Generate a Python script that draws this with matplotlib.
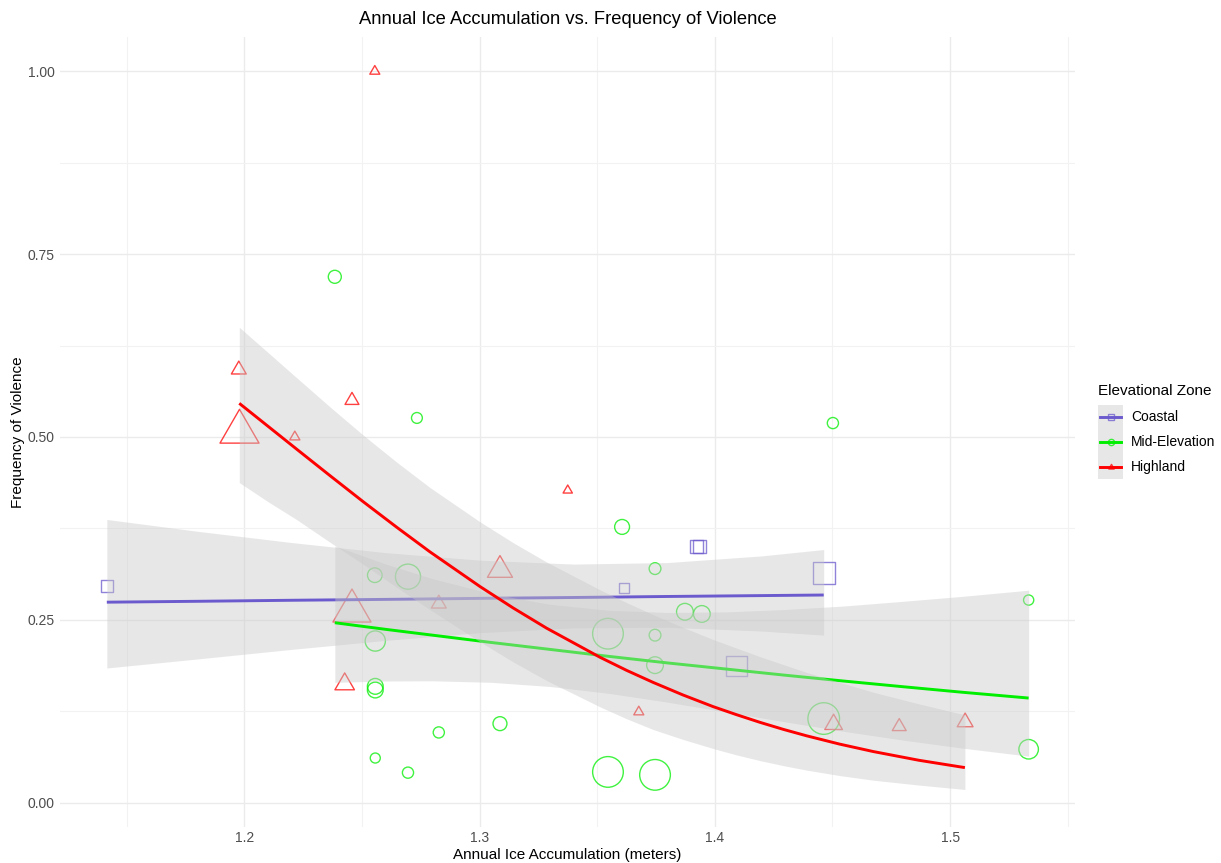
import matplotlib
matplotlib.use("Agg")
import matplotlib.pyplot as plt
import numpy as np
from matplotlib.lines import Line2D
from matplotlib.patches import Rectangle
from matplotlib.path import Path

plt.rcParams['font.family'] = ['Liberation Sans', 'DejaVu Sans']

# --- observations per elevational zone -------------------------------------
coastal_ice = [1.1416, 1.3614, 1.3922, 1.3936, 1.4463, 1.4093]
coastal_violence = [0.296, 0.294, 0.350, 0.350, 0.314, 0.187]
coastal_sample = [42, 29, 53, 53, 144, 121]

mid_ice = [1.2385, 1.2734, 1.4502, 1.3606, 1.3746, 1.2555, 1.2696, 1.3873,
           1.3945, 1.3546, 1.3746, 1.2557, 1.3746, 1.2557, 1.2557, 1.4463,
           1.3087, 1.2827, 1.2557, 1.2696, 1.3546, 1.3746, 1.5334, 1.5334]
mid_violence = [0.719, 0.526, 0.519, 0.377, 0.320, 0.311, 0.309, 0.261,
                0.258, 0.231, 0.229, 0.221, 0.188, 0.159, 0.154, 0.115,
                0.108, 0.096, 0.061, 0.041, 0.042, 0.038, 0.277, 0.073]
mid_sample = [49, 34, 36, 64, 40, 62, 182, 81,
              81, 272, 40, 118, 81, 72, 72, 289,
              56, 36, 29, 36, 272, 272, 30, 110]

high_ice = [1.2555, 1.1977, 1.2458, 1.1980, 1.2215, 1.3375, 1.3087,
            1.2458, 1.2827, 1.2427, 1.3677, 1.4505, 1.4784, 1.5064]
high_violence = [1.000, 0.592, 0.550, 0.507, 0.500, 0.427, 0.318,
                 0.262, 0.272, 0.162, 0.124, 0.107, 0.104, 0.110]
high_sample = [29, 64, 56, 441, 30, 25, 182,
               420, 64, 110, 29, 90, 56, 72]

# --- fitted binomial smooths with 95% bands ---------------------------------
coastal_fit_x = [1.1416, 1.18, 1.22, 1.26, 1.30, 1.34, 1.38, 1.42, 1.4463]
coastal_fit = [0.2741, 0.2753, 0.2767, 0.2779, 0.2793, 0.2805, 0.2819, 0.2831, 0.2839]
coastal_hi = [0.3872, 0.3711, 0.3557, 0.3419, 0.3316, 0.3262, 0.3283, 0.3374, 0.3461]
coastal_lo = [0.1841, 0.1964, 0.2095, 0.2218, 0.2324, 0.2390, 0.2398, 0.2346, 0.2290]

mid_fit_x = [1.2385, 1.26, 1.28, 1.305, 1.33, 1.355, 1.38, 1.405, 1.43,
             1.455, 1.48, 1.505, 1.5334]
mid_fit = [0.246, 0.237, 0.229, 0.219, 0.2095, 0.200, 0.191, 0.1826, 0.1742,
           0.1662, 0.1585, 0.151, 0.143]
mid_hi = [0.351, 0.3263, 0.3062, 0.2856, 0.2711, 0.2629, 0.260, 0.2608, 0.2641,
          0.2689, 0.2753, 0.282, 0.2905]
mid_lo = [0.1645, 0.1663, 0.1666, 0.1645, 0.1588, 0.1494, 0.1373, 0.1239, 0.1104,
          0.0974, 0.0855, 0.0746, 0.0636]

high_fit_x = [1.1979, 1.2100, 1.2223, 1.2365, 1.2506, 1.2648, 1.2789, 1.3002,
              1.3143, 1.3285, 1.3512, 1.3625, 1.3738, 1.3865, 1.3993, 1.4092,
              1.4192, 1.4291, 1.4390, 1.4531, 1.4673, 1.4868, 1.5063]
high_fit = [0.546, 0.5149, 0.4833, 0.4470, 0.4114, 0.3766, 0.3430, 0.2955,
            0.2662, 0.2386, 0.1988, 0.1809, 0.1644, 0.1472, 0.1313, 0.1203,
            0.1098, 0.1002, 0.0914, 0.0800, 0.0699, 0.0579, 0.0479]
high_hi = [0.650, 0.6158, 0.5810, 0.5410, 0.5025, 0.4656, 0.4310, 0.3840,
           0.3555, 0.3290, 0.2910, 0.2735, 0.2570, 0.2396, 0.2230, 0.2113,
           0.1996, 0.1888, 0.1780, 0.1645, 0.1510, 0.1350, 0.1200]
high_lo = [0.4376, 0.4117, 0.3870, 0.3560, 0.3260, 0.2945, 0.2640, 0.2200,
           0.1925, 0.1670, 0.1310, 0.1147, 0.1000, 0.0864, 0.0740, 0.0653,
           0.0575, 0.0506, 0.0445, 0.0370, 0.0307, 0.0240, 0.0180]

zones = ["Coastal", "Mid-Elevation", "Highland"]
colors = ["#6A5ACD", "#00EE00", "#FF0000"]

W, H = 1221, 863
DPI = 100

# point-up triangle centred on its centroid, like R's pch 2
tri_path = Path([(0, 1), (0.866, -0.5), (-0.866, -0.5), (0, 0)],
                [Path.MOVETO, Path.LINETO, Path.LINETO, Path.CLOSEPOLY])
markers = ["s", "o", tri_path]


def marker_area(sample, marker):
    # area scale: width grows with sqrt(sample), 2 px per sqrt unit
    width_pt = 2 * np.sqrt(np.asarray(sample, dtype=float)) * 72 / DPI * 0.93
    if marker is tri_path:
        return (width_pt * 2 / np.sqrt(3)) ** 2
    return width_pt ** 2


def fig_xy(x, y):
    return x / W, 1 - y / H


fig = plt.figure(figsize=(W / DPI, H / DPI), dpi=DPI)
fig.patch.set_facecolor("white")
left, right, top, bottom = 60, 1075, 36.7, 826.7
ax = fig.add_axes([left / W, 1 - bottom / H, (right - left) / W, (bottom - top) / H])
ax.set_xlim(1.1217, 1.5531)
ax.set_ylim(-0.0329, 1.0473)

for s in ax.spines.values():
    s.set_visible(False)
ax.set_xticks([1.2, 1.3, 1.4, 1.5])
ax.set_xticklabels(["1.2", "1.3", "1.4", "1.5"])
ax.set_yticks([0.0, 0.25, 0.5, 0.75, 1.0])
ax.set_yticklabels(["0.00", "0.25", "0.50", "0.75", "1.00"])
ax.set_xticks([1.15, 1.25, 1.35, 1.45, 1.55], minor=True)
ax.set_yticks([0.125, 0.375, 0.625, 0.875], minor=True)
ax.tick_params(which="both", length=0)
ax.tick_params(axis="x", pad=3, labelsize=10, labelcolor="#4D4D4D")
ax.tick_params(axis="y", pad=4, labelsize=10, labelcolor="#4D4D4D")
ax.grid(which="major", color="#EBEBEB", linewidth=1.0)
ax.grid(which="minor", color="#F2F2F2", linewidth=0.8)
ax.set_axisbelow(True)

groups = [
    (coastal_ice, coastal_violence, coastal_sample,
     coastal_fit_x, coastal_fit, coastal_lo, coastal_hi),
    (mid_ice, mid_violence, mid_sample, mid_fit_x, mid_fit, mid_lo, mid_hi),
    (high_ice, high_violence, high_sample, high_fit_x, high_fit, high_lo, high_hi),
]

ribbon_fill = "#C8C8C8"
ribbon_alpha = 0.42

# points first, the smooths sit on top of them
for (xs, ys, n, *_), col, mk in zip(groups, colors, markers):
    ax.scatter(xs, ys, s=marker_area(n, mk), marker=mk, facecolors="none",
               edgecolors=col, linewidths=1.0, alpha=0.75, zorder=2)

for i, ((*_, fx, fy, lo, hi), col) in enumerate(zip(groups, colors)):
    ax.fill_between(fx, lo, hi, color=ribbon_fill, alpha=ribbon_alpha,
                    linewidth=0, zorder=3 + 2 * i)
    ax.plot(fx, fy, color=col, linewidth=2.1, solid_capstyle="butt",
            solid_joinstyle="round", zorder=4 + 2 * i)

# titles
fig.text(*fig_xy((left + right) / 2, 19), "Annual Ice Accumulation vs. Frequency of Violence",
         ha="center", va="center", fontsize=13.2)
fig.text(*fig_xy((left + right) / 2, 855), "Annual Ice Accumulation (meters)",
         ha="center", va="center", fontsize=11)
fig.text(*fig_xy(18, (top + bottom) / 2), "Frequency of Violence",
         ha="center", va="center", rotation=90, fontsize=11)

# legend
fig.text(*fig_xy(1098, 391), "Elevational Zone", ha="left", va="center", fontsize=11)
key_top, key_h = 405, 24.7
for i, (name, col, mk) in enumerate(zip(zones, colors, markers)):
    y0 = key_top + i * key_h
    fig.patches.append(Rectangle(fig_xy(1098, y0 + key_h), 25 / W, key_h / H,
                                 transform=fig.transFigure, facecolor=ribbon_fill,
                                 alpha=ribbon_alpha, edgecolor="none"))
    yc = y0 + key_h / 2
    x0, yy = fig_xy(1100, yc)
    x1, _ = fig_xy(1121, yc)
    fig.add_artist(Line2D([x0, x1], [yy, yy], transform=fig.transFigure,
                          color=col, linewidth=2.1))
    fig.add_artist(Line2D([(x0 + x1) / 2], [yy], transform=fig.transFigure,
                          marker=mk, markersize=4.5, markerfacecolor="none",
                          markeredgecolor=col, markeredgewidth=1.0, alpha=0.75,
                          linestyle="none"))
    fig.text(*fig_xy(1131, yc), name, ha="left", va="center", fontsize=10)

fig.savefig("out.png", dpi=DPI)
